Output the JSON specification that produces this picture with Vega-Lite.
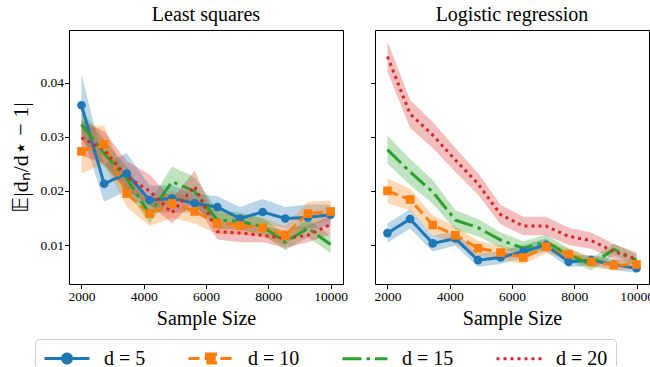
{
  "$schema": "https://vega.github.io/schema/vega-lite/v6.json",
  "padding": {"left": 9, "top": 4, "right": 6, "bottom": -12},
  "background": "white",
  "datasets": {
    "all": [
      {"p":"ls","d":"d = 5","n":2000,"m":0.0358,"lo":0.0310,"hi":0.0415},
      {"p":"ls","d":"d = 5","n":2727,"m":0.0213,"lo":0.0180,"hi":0.0250},
      {"p":"ls","d":"d = 5","n":3455,"m":0.0232,"lo":0.0200,"hi":0.0270},
      {"p":"ls","d":"d = 5","n":4182,"m":0.0183,"lo":0.0160,"hi":0.0210},
      {"p":"ls","d":"d = 5","n":4909,"m":0.0186,"lo":0.0160,"hi":0.0210},
      {"p":"ls","d":"d = 5","n":5636,"m":0.0177,"lo":0.0160,"hi":0.0195},
      {"p":"ls","d":"d = 5","n":6364,"m":0.0170,"lo":0.0150,"hi":0.0190},
      {"p":"ls","d":"d = 5","n":7091,"m":0.0149,"lo":0.0130,"hi":0.0170},
      {"p":"ls","d":"d = 5","n":7818,"m":0.0161,"lo":0.0140,"hi":0.0185},
      {"p":"ls","d":"d = 5","n":8545,"m":0.0149,"lo":0.0130,"hi":0.0170},
      {"p":"ls","d":"d = 5","n":9273,"m":0.0151,"lo":0.0130,"hi":0.0175},
      {"p":"ls","d":"d = 5","n":10000,"m":0.0156,"lo":0.0135,"hi":0.0175},
      {"p":"ls","d":"d = 10","n":2000,"m":0.0273,"lo":0.0232,"hi":0.0320},
      {"p":"ls","d":"d = 10","n":2727,"m":0.0286,"lo":0.0250,"hi":0.0320},
      {"p":"ls","d":"d = 10","n":3455,"m":0.0195,"lo":0.0170,"hi":0.0220},
      {"p":"ls","d":"d = 10","n":4182,"m":0.0158,"lo":0.0135,"hi":0.0180},
      {"p":"ls","d":"d = 10","n":4909,"m":0.0177,"lo":0.0150,"hi":0.0200},
      {"p":"ls","d":"d = 10","n":5636,"m":0.0162,"lo":0.0140,"hi":0.0185},
      {"p":"ls","d":"d = 10","n":6364,"m":0.0140,"lo":0.0120,"hi":0.0160},
      {"p":"ls","d":"d = 10","n":7091,"m":0.0136,"lo":0.0120,"hi":0.0155},
      {"p":"ls","d":"d = 10","n":7818,"m":0.0132,"lo":0.0115,"hi":0.0150},
      {"p":"ls","d":"d = 10","n":8545,"m":0.0118,"lo":0.0100,"hi":0.0135},
      {"p":"ls","d":"d = 10","n":9273,"m":0.0158,"lo":0.0135,"hi":0.0180},
      {"p":"ls","d":"d = 10","n":10000,"m":0.0162,"lo":0.0145,"hi":0.0182},
      {"p":"ls","d":"d = 15","n":2000,"m":0.0323,"lo":0.0295,"hi":0.0350},
      {"p":"ls","d":"d = 15","n":2727,"m":0.0269,"lo":0.0245,"hi":0.0295},
      {"p":"ls","d":"d = 15","n":3455,"m":0.0223,"lo":0.0200,"hi":0.0245},
      {"p":"ls","d":"d = 15","n":4182,"m":0.0158,"lo":0.0140,"hi":0.0180},
      {"p":"ls","d":"d = 15","n":4909,"m":0.0217,"lo":0.0190,"hi":0.0245},
      {"p":"ls","d":"d = 15","n":5636,"m":0.0199,"lo":0.0175,"hi":0.0225},
      {"p":"ls","d":"d = 15","n":6364,"m":0.0146,"lo":0.0130,"hi":0.0165},
      {"p":"ls","d":"d = 15","n":7091,"m":0.0144,"lo":0.0128,"hi":0.0160},
      {"p":"ls","d":"d = 15","n":7818,"m":0.0134,"lo":0.0120,"hi":0.0150},
      {"p":"ls","d":"d = 15","n":8545,"m":0.0105,"lo":0.0090,"hi":0.0120},
      {"p":"ls","d":"d = 15","n":9273,"m":0.0131,"lo":0.0115,"hi":0.0148},
      {"p":"ls","d":"d = 15","n":10000,"m":0.0101,"lo":0.0085,"hi":0.0118},
      {"p":"ls","d":"d = 20","n":2000,"m":0.0298,"lo":0.0265,"hi":0.0330},
      {"p":"ls","d":"d = 20","n":2727,"m":0.0276,"lo":0.0250,"hi":0.0310},
      {"p":"ls","d":"d = 20","n":3455,"m":0.0226,"lo":0.0200,"hi":0.0255},
      {"p":"ls","d":"d = 20","n":4182,"m":0.0200,"lo":0.0175,"hi":0.0230},
      {"p":"ls","d":"d = 20","n":4909,"m":0.0160,"lo":0.0140,"hi":0.0185},
      {"p":"ls","d":"d = 20","n":5636,"m":0.0208,"lo":0.0180,"hi":0.0237},
      {"p":"ls","d":"d = 20","n":6364,"m":0.0125,"lo":0.0110,"hi":0.0145},
      {"p":"ls","d":"d = 20","n":7091,"m":0.0122,"lo":0.0105,"hi":0.0140},
      {"p":"ls","d":"d = 20","n":7818,"m":0.0118,"lo":0.0105,"hi":0.0135},
      {"p":"ls","d":"d = 20","n":8545,"m":0.0112,"lo":0.0095,"hi":0.0128},
      {"p":"ls","d":"d = 20","n":9273,"m":0.0118,"lo":0.0105,"hi":0.0135},
      {"p":"ls","d":"d = 20","n":10000,"m":0.0138,"lo":0.0120,"hi":0.0155},
      {"p":"lr","d":"d = 5","n":2000,"m":0.0122,"lo":0.0104,"hi":0.0140},
      {"p":"lr","d":"d = 5","n":2727,"m":0.0148,"lo":0.0130,"hi":0.0166},
      {"p":"lr","d":"d = 5","n":3455,"m":0.0103,"lo":0.0088,"hi":0.0118},
      {"p":"lr","d":"d = 5","n":4182,"m":0.0112,"lo":0.0099,"hi":0.0125},
      {"p":"lr","d":"d = 5","n":4909,"m":0.0072,"lo":0.0060,"hi":0.0084},
      {"p":"lr","d":"d = 5","n":5636,"m":0.0077,"lo":0.0065,"hi":0.0089},
      {"p":"lr","d":"d = 5","n":6364,"m":0.0088,"lo":0.0076,"hi":0.0100},
      {"p":"lr","d":"d = 5","n":7091,"m":0.0100,"lo":0.0088,"hi":0.0112},
      {"p":"lr","d":"d = 5","n":7818,"m":0.0069,"lo":0.0059,"hi":0.0079},
      {"p":"lr","d":"d = 5","n":8545,"m":0.0072,"lo":0.0062,"hi":0.0082},
      {"p":"lr","d":"d = 5","n":9273,"m":0.0064,"lo":0.0054,"hi":0.0074},
      {"p":"lr","d":"d = 5","n":10000,"m":0.0057,"lo":0.0049,"hi":0.0065},
      {"p":"lr","d":"d = 10","n":2000,"m":0.0200,"lo":0.0177,"hi":0.0223},
      {"p":"lr","d":"d = 10","n":2727,"m":0.0184,"lo":0.0164,"hi":0.0204},
      {"p":"lr","d":"d = 10","n":3455,"m":0.0137,"lo":0.0119,"hi":0.0155},
      {"p":"lr","d":"d = 10","n":4182,"m":0.0118,"lo":0.0102,"hi":0.0134},
      {"p":"lr","d":"d = 10","n":4909,"m":0.0094,"lo":0.0080,"hi":0.0108},
      {"p":"lr","d":"d = 10","n":5636,"m":0.0086,"lo":0.0073,"hi":0.0099},
      {"p":"lr","d":"d = 10","n":6364,"m":0.0077,"lo":0.0065,"hi":0.0089},
      {"p":"lr","d":"d = 10","n":7091,"m":0.0097,"lo":0.0085,"hi":0.0109},
      {"p":"lr","d":"d = 10","n":7818,"m":0.0083,"lo":0.0073,"hi":0.0093},
      {"p":"lr","d":"d = 10","n":8545,"m":0.0069,"lo":0.0059,"hi":0.0079},
      {"p":"lr","d":"d = 10","n":9273,"m":0.0063,"lo":0.0053,"hi":0.0073},
      {"p":"lr","d":"d = 10","n":10000,"m":0.0064,"lo":0.0056,"hi":0.0072},
      {"p":"lr","d":"d = 15","n":2000,"m":0.0276,"lo":0.0250,"hi":0.0302},
      {"p":"lr","d":"d = 15","n":2727,"m":0.0235,"lo":0.0211,"hi":0.0259},
      {"p":"lr","d":"d = 15","n":3455,"m":0.0198,"lo":0.0176,"hi":0.0220},
      {"p":"lr","d":"d = 15","n":4182,"m":0.0146,"lo":0.0128,"hi":0.0164},
      {"p":"lr","d":"d = 15","n":4909,"m":0.0132,"lo":0.0116,"hi":0.0148},
      {"p":"lr","d":"d = 15","n":5636,"m":0.0109,"lo":0.0095,"hi":0.0123},
      {"p":"lr","d":"d = 15","n":6364,"m":0.0094,"lo":0.0081,"hi":0.0107},
      {"p":"lr","d":"d = 15","n":7091,"m":0.0106,"lo":0.0093,"hi":0.0119},
      {"p":"lr","d":"d = 15","n":7818,"m":0.0082,"lo":0.0070,"hi":0.0094},
      {"p":"lr","d":"d = 15","n":8545,"m":0.0064,"lo":0.0053,"hi":0.0075},
      {"p":"lr","d":"d = 15","n":9273,"m":0.0092,"lo":0.0081,"hi":0.0103},
      {"p":"lr","d":"d = 15","n":10000,"m":0.0072,"lo":0.0062,"hi":0.0082},
      {"p":"lr","d":"d = 20","n":2000,"m":0.0448,"lo":0.0420,"hi":0.0476},
      {"p":"lr","d":"d = 20","n":2727,"m":0.0342,"lo":0.0316,"hi":0.0368},
      {"p":"lr","d":"d = 20","n":3455,"m":0.0303,"lo":0.0279,"hi":0.0327},
      {"p":"lr","d":"d = 20","n":4182,"m":0.0257,"lo":0.0235,"hi":0.0279},
      {"p":"lr","d":"d = 20","n":4909,"m":0.0213,"lo":0.0193,"hi":0.0233},
      {"p":"lr","d":"d = 20","n":5636,"m":0.0156,"lo":0.0138,"hi":0.0174},
      {"p":"lr","d":"d = 20","n":6364,"m":0.0135,"lo":0.0118,"hi":0.0152},
      {"p":"lr","d":"d = 20","n":7091,"m":0.0135,"lo":0.0118,"hi":0.0152},
      {"p":"lr","d":"d = 20","n":7818,"m":0.0116,"lo":0.0100,"hi":0.0132},
      {"p":"lr","d":"d = 20","n":8545,"m":0.0108,"lo":0.0093,"hi":0.0123},
      {"p":"lr","d":"d = 20","n":9273,"m":0.0088,"lo":0.0074,"hi":0.0102},
      {"p":"lr","d":"d = 20","n":10000,"m":0.0074,"lo":0.0062,"hi":0.0086}
    ]
  },
  "config": {
    "font": "Liberation Serif",
    "view": {"stroke": "black", "strokeWidth": 1},
    "axis": {
      "grid": false, "domain": false, "tickColor": "black", "tickSize": 4.5, "tickWidth": 1,
      "labelColor": "black", "labelFont": "Liberation Serif", "labelFontSize": 13.5, "labelPadding": 1,
      "titleFont": "Liberation Serif", "titleFontSize": 20, "titleFontWeight": "normal", "titleColor": "black"
    },
    "title": {"font": "Liberation Serif", "fontSize": 20, "fontWeight": "normal", "color": "black", "offset": 5},
    "concat": {"spacing": 21},
    "legend": {
      "labelFont": "Liberation Serif", "labelFontSize": 20, "labelColor": "black", "labelOffset": 38,
      "columnPadding": 36, "padding": 8, "strokeColor": "#cccccc", "cornerRadius": 4, "fillColor": "white",
      "symbolSize": 400, "symbolStrokeWidth": 3, "symbolOpacity": 1, "labelLimit": 200
    }
  },
  "resolve": {"scale": {"color": "shared", "strokeDash": "shared", "shape": "shared"}, "legend": {"color": "shared", "strokeDash": "shared"}},
  "hconcat": [
    {
      "title": "Least squares",
      "width": 274, "height": 254,
      "data": {"name": "all"},
      "transform": [{"filter": "datum.p == 'ls'"}],
      "encoding": {
        "x": {"field": "n", "type": "quantitative", "scale": {"domain": [1600, 10400], "nice": false, "zero": false},
              "axis": {"values": [2000, 4000, 6000, 8000, 10000], "format": "d", "title": "Sample Size", "titlePadding": 5}}
      },
      "layer": [
        {
          "mark": {"type": "area", "opacity": 0.3},
          "encoding": {
            "y": {"field": "lo", "type": "quantitative", "scale": {"domain": [0.0028, 0.0497], "nice": false, "zero": false},
                  "axis": {"values": [0.01, 0.02, 0.03, 0.04], "format": ".2f", "title": "𝔼|dₙ/d⋆ − 1|", "titlePadding": 7, "titleFontSize": 22}},
            "y2": {"field": "hi"},
            "color": {"field": "d", "type": "nominal", "scale": {"domain": ["d = 5", "d = 10", "d = 15", "d = 20"], "range": ["#1f77b4", "#ff7f0e", "#2ca02c", "#d62728"]}}
          }
        },
        {
          "mark": {"type": "line", "strokeWidth": 3},
          "encoding": {
            "y": {"field": "m", "type": "quantitative"},
            "color": {"field": "d", "type": "nominal",
              "legend": {"title": null, "orient": "none", "legendX": -34, "legendY": 309, "direction": "horizontal", "columns": 4,
                "encode": {"symbols": {"update": {
                  "shape": {"signal": "datum.value == 'd = 5' ? 'M-1,0H3.5M0.8,0A0.45,0.45,0,1,1,1.7,0A0.45,0.45,0,1,1,0.8,0Z' : datum.value == 'd = 10' ? 'M-1,0H3.5M0.8,-0.45H1.7V0.45H0.8Z' : 'M-1,0H3.5'"},
                  "fill": {"signal": "datum.value == 'd = 5' ? '#1f77b4' : datum.value == 'd = 10' ? '#ff7f0e' : 'transparent'"},
                  "stroke": {"signal": "datum.value == 'd = 5' ? '#1f77b4' : datum.value == 'd = 10' ? '#ff7f0e' : datum.value == 'd = 15' ? '#2ca02c' : '#d62728'"},
                  "strokeWidth": {"value": 3},
                  "opacity": {"value": 1}
                }}}}},
            "strokeDash": {"field": "d", "type": "nominal", "scale": {"domain": ["d = 5", "d = 10", "d = 15", "d = 20"], "range": [[1, 0], [11, 5], [19, 5, 3.5, 5], [3, 4]]},
              "legend": {"title": null, "orient": "none", "legendX": -34, "legendY": 309, "direction": "horizontal", "columns": 4}}
          }
        },
        {
          "transform": [{"filter": "datum.d == 'd = 5' || datum.d == 'd = 10'"}],
          "mark": {"type": "point", "filled": true, "opacity": 1, "size": 75},
          "encoding": {
            "y": {"field": "m", "type": "quantitative"},
            "color": {"field": "d", "type": "nominal"},
            "shape": {"field": "d", "type": "nominal", "scale": {"domain": ["d = 5", "d = 10"], "range": ["circle", "square"]}, "legend": null}
          }
        }
      ]
    },
    {
      "title": "Logistic regression",
      "width": 274, "height": 254,
      "data": {"name": "all"},
      "transform": [{"filter": "datum.p == 'lr'"}],
      "encoding": {
        "x": {"field": "n", "type": "quantitative", "scale": {"domain": [1600, 10400], "nice": false, "zero": false},
              "axis": {"values": [2000, 4000, 6000, 8000, 10000], "format": "d", "title": "Sample Size", "titlePadding": 5}}
      },
      "layer": [
        {
          "mark": {"type": "area", "opacity": 0.3},
          "encoding": {
            "y": {"field": "lo", "type": "quantitative", "scale": {"domain": [0.0028, 0.0497], "nice": false, "zero": false},
                  "axis": {"values": [0.01, 0.02, 0.03, 0.04], "labels": false, "title": null}},
            "y2": {"field": "hi"},
            "color": {"field": "d", "type": "nominal"}
          }
        },
        {
          "mark": {"type": "line", "strokeWidth": 3},
          "encoding": {
            "y": {"field": "m", "type": "quantitative"},
            "color": {"field": "d", "type": "nominal"},
            "strokeDash": {"field": "d", "type": "nominal"}
          }
        },
        {
          "transform": [{"filter": "datum.d == 'd = 5' || datum.d == 'd = 10'"}],
          "mark": {"type": "point", "filled": true, "opacity": 1, "size": 75},
          "encoding": {
            "y": {"field": "m", "type": "quantitative"},
            "color": {"field": "d", "type": "nominal"},
            "shape": {"field": "d", "type": "nominal", "legend": null}
          }
        }
      ]
    }
  ]
}
